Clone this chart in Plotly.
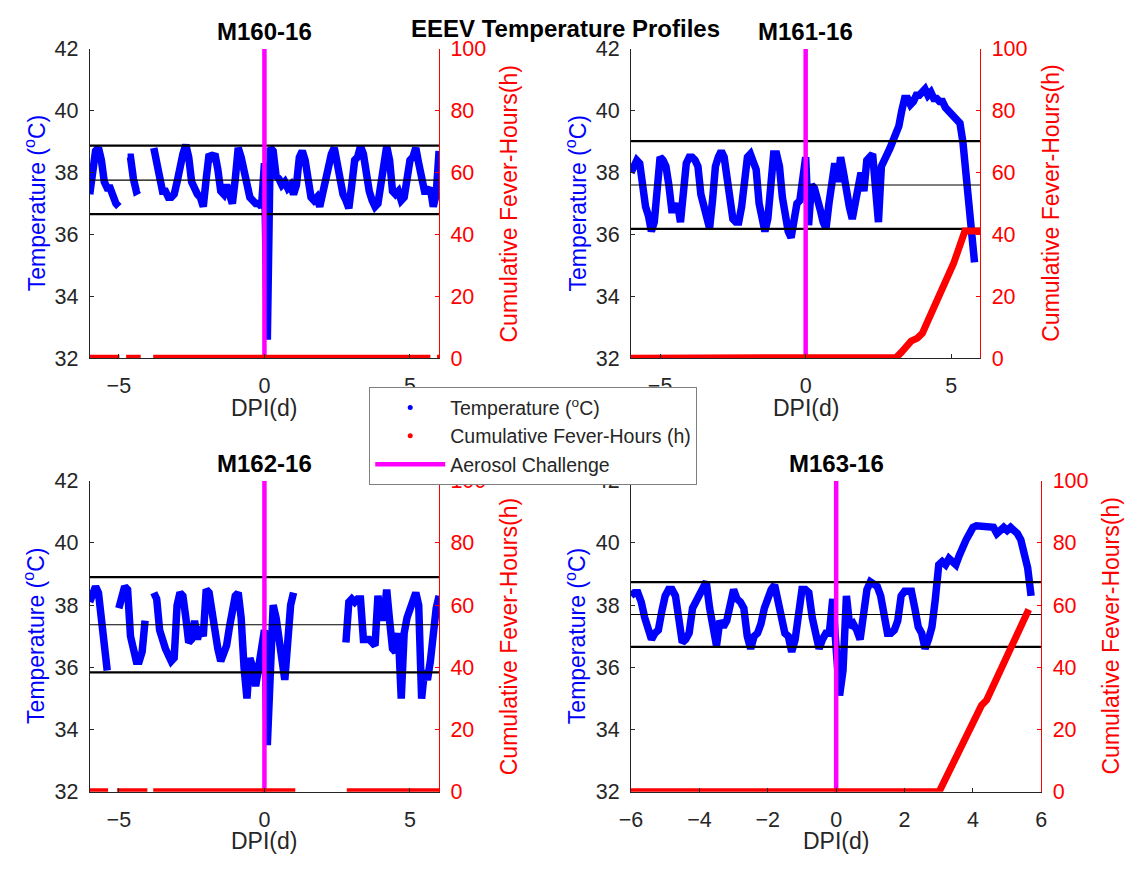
import plotly.graph_objects as go

# Days post infection, sampled every 0.1 d from -6 to 6
DAY = [round(-6 + 0.1 * i, 1) for i in range(121)]

# Body temperature (°C) per animal, one row per day
m160_temp = [
    37.3, 38.3, 38.7, 38.8, 38.4, 37.7, 37.5, 37.5, 37.2, 37.0,
    36.9, None, None, 38.5, 38.5, 37.8, 37.4, 37.45, None, None,
    None, None, 38.8, 38.4, 37.9, 37.4, 37.4, 37.2, 37.2, 37.3,
    37.7, 38.3, 38.6, 38.9, 38.5, 37.7, 37.4, 37.3, 37.2, 36.9,
    37.8, 38.6, 38.5, 38.6, 38.1, 37.4, 37.3, 37.6, 37.3, 37.0,
    37.8, 38.8, 38.5, 38.0, 37.4, 37.2, 37.1, 37.0, 37.0, 36.9,
    38.3, 32.6, 38.8, 38.7, 37.9, 37.8, 37.6, 37.7, 37.5, 37.6,
    37.3, 37.6, 38.5, 38.7, 38.4, 37.6, 37.2, 37.1, 37.2, 36.9,
    37.3, 37.8, 38.3, 38.6, 38.8, 38.3, 37.6, 37.3, 37.1, 36.85,
    37.6, 38.4, 38.5, 38.85, 38.6, 37.8, 37.4, 37.1, 36.9, 37.0,
    37.7, 38.4, 38.85, 38.4, 37.4, 37.3, 37.4, 37.1, 37.2, 37.8,
    38.4, 38.5, 38.8, 38.3, 37.7, 37.4, 37.4, 37.5, 36.9, 37.3,
    38.7,
]
m161_temp = [
    38.0, 38.3, 38.4, 38.3, 37.3, 36.9, 36.6, 36.1, 36.4, 37.8,
    38.5, 38.4, 38.2, 37.6, 36.8, 36.8, 37.0, 36.4, 37.7, 38.3,
    38.5, 38.5, 38.4, 38.2, 37.3, 36.9, 36.5, 36.2, 37.1, 38.2,
    38.5, 38.7, 38.5, 37.9, 37.3, 36.5, 36.4, 36.4, 36.9, 37.9,
    38.5, 38.6, 38.3, 38.1, 37.0, 36.4, 36.1, 36.5, 37.6, 38.6,
    38.6, 38.2, 37.2, 36.5, 36.1, 35.9, 36.7, 37.0, 37.1, 37.8,
    38.5, 36.3, 37.6, 37.5, 37.0, 36.8, 36.4, 36.2, 37.0, 37.8,
    38.3, 37.7, 38.5, 38.0, 37.3, 36.9, 36.5, 37.0, 37.6, 38.0,
    37.4, 38.4, 38.5, 38.6, 37.5, 36.4, 38.2, 38.5, 38.6, 38.8,
    39.0, 39.2, 39.5, 40.0, 40.4, 40.4, 40.2, 40.3, 40.5, 40.5,
    40.6, 40.7, 40.5, 40.6, 40.4, 40.4, 40.3, 40.3, 40.1, 40.0,
    39.9, 39.8, 39.7, 39.6, 39.0, 38.1, 37.2, 35.9, 35.1, None,
    None,
]
m162_temp = [
    38.1, 38.3, 38.6, 38.4, 37.5, 36.8, 35.9, None, None, None,
    37.9, 38.4, 38.6, 38.5, 37.0, 36.6, 36.2, 36.2, 36.5, 37.5,
    None, None, 38.4, 38.2, 37.2, 36.8, 36.6, 36.4, 36.2, 36.3,
    38.0, 38.4, 38.3, 37.6, 36.8, 36.9, 37.5, 36.9, 37.3, 37.0,
    38.5, 38.4, 37.7, 36.9, 36.6, 36.2, 36.4, 36.7, 37.3, 37.8,
    38.3, 38.4, 37.6, 36.0, 35.0, 36.3, 36.0, 35.4, 36.0, 36.8,
    37.2, 33.5, 35.9, 38.0, 37.6, 36.9, 36.6, 35.6, 36.8, 38.0,
    38.4, None, None, None, None, None, None, None, None, None,
    None, None, None, None, None, None, None, None, 36.8, 38.1,
    38.2, 38.1, 38.2, 38.2, 36.9, 36.9, 36.9, 36.8, 36.7, 38.3,
    37.6, 37.6, 38.5, 37.5, 36.6, 36.5, 37.1, 35.0, 37.1, 37.6,
    37.9, 38.1, 38.4, 38.0, 35.0, 35.9, 35.6, 36.2, 37.2, 37.9,
    38.3,
]
m163_temp = [
    38.3, 38.4, 38.4, 38.1, 37.6, 37.3, 36.9, 37.1, 37.2, 37.8,
    38.3, 38.5, 38.5, 38.3, 37.4, 36.8, 36.9, 37.1, 37.9, 38.1,
    38.4, 38.6, 38.75, 37.9, 37.3, 36.7, 37.5, 37.3, 37.5, 38.0,
    38.5, 38.2, 38.1, 37.9, 37.0, 36.6, 37.0, 37.1, 37.4, 37.9,
    38.3, 38.5, 38.65, 38.1, 37.5, 37.1, 37.0, 36.5, 36.9, 38.0,
    38.5, 38.5, 38.4, 37.6, 37.0, 36.6, 36.9, 37.1, 37.1, 38.2,
    36.6, 35.1, 35.9, 38.3, 37.3, 37.4, 37.2, 36.9, 37.7, 38.5,
    38.75, 38.7, 38.6, 38.3, 37.5, 37.1, 37.1, 37.2, 37.5, 38.3,
    38.45, 38.45, 38.45, 37.9, 37.3, 37.1, 36.6, 36.9, 37.3, 38.2,
    39.3, 39.4, 39.3, 39.5, 39.4, 39.3, 39.6, 39.9, 40.1, 40.3,
    40.5, 40.55, 40.55, 40.55, 40.5, 40.55, 40.5, 40.3, 40.4, 40.5,
    40.4, 40.5, 40.4, 40.3, 40.1, 39.7, 39.2, 38.3, None, None,
    None,
]

# Cumulative fever-hours (h)
m160_fever_day = [-6.0, -4.98, None, -4.75, -4.25, None, -3.82, 5.7, None, 5.93, 6.0]
m160_fever_hours = [0, 0, None, 0, 0, None, 0, 0, None, 0, 0]
m161_fever_day = [-6.0, 2.94, 3.11, 3.28, 3.45, 3.62, 3.84, 4.01, 4.18, 4.63, 5.08, 5.47, 6.0]
m161_fever_hours = [0, 0, 0.2, 1.8, 3.9, 5.5, 6.5, 8.1, 11.7, 21.2, 30.6, 41.1, 41.1]
m162_fever_day = [-6.0, -5.37, None, -5.06, -4.02, None, -3.82, 1.06, None, 2.83, 6.0]
m162_fever_hours = [0, 0, None, 0, 0, None, 0, 0, None, 0, 0]
m163_fever_day = [-6.0, 3.01, 4.25, 4.4, 5.63]
m163_fever_hours = [0, 0, 27.8, 29.5, 58.6]

# Baseline thresholds (°C): upper, mean, lower
m160_thresholds = [38.87, 37.76, 36.66]
m161_thresholds = [39.02, 37.60, 36.18]
m162_thresholds = [38.90, 37.37, 35.84]
m163_thresholds = [38.74, 37.70, 36.66]

animal_ids = ["M160-16", "M161-16", "M162-16", "M163-16"]
challenge_day = 0

W, H = 1131, 871
FONT = "Liberation Sans, Arial, Helvetica, sans-serif"
INK = "#262626"
BLUE = "#0000ff"
RED = "#ff0000"
MAGENTA = "#ff00ff"

# plot-area boxes in pixels: left, right, top, bottom
panels = [
    dict(temp=m160_temp, fd=m160_fever_day, fh=m160_fever_hours, thr=m160_thresholds,
         box=(79, 434, 39, 357), xt=[-5, 0, 5]),
    dict(temp=m161_temp, fd=m161_fever_day, fh=m161_fever_hours, thr=m161_thresholds,
         box=(629, 984, 39, 357), xt=[-5, 0, 5]),
    dict(temp=m162_temp, fd=m162_fever_day, fh=m162_fever_hours, thr=m162_thresholds,
         box=(79, 434, 483, 803), xt=[-5, 0, 5]),
    dict(temp=m163_temp, fd=m163_fever_day, fh=m163_fever_hours, thr=m163_thresholds,
         box=(629, 1046, 483, 803), xt=[-6, -4, -2, 0, 2, 4, 6]),
]
XR = [-6, 6]
TEMP_RANGE = [32, 42]
FEVER_RANGE = [0, 100]

fig = go.Figure()
layout = {}
annotations = []


def px(x):
    return x / W


def py(y):
    return 1 - y / H


for k, (p, name) in enumerate(zip(panels, animal_ids), start=1):
    l, r, t, b = p["box"]
    xname = "x" if k == 1 else f"x{k}"
    yl_i, yr_i = 2 * k - 1, 2 * k
    yl = "y" if yl_i == 1 else f"y{yl_i}"
    yr = f"y{yr_i}"
    xkey = "xaxis" if k == 1 else f"xaxis{k}"
    ylkey = "yaxis" if yl_i == 1 else f"yaxis{yl_i}"
    yrkey = f"yaxis{yr_i}"

    # temperature trace
    fig.add_trace(go.Scatter(
        x=DAY, y=p["temp"], mode="lines", connectgaps=False,
        line=dict(color=BLUE, width=7.5), xaxis=xname, yaxis=yl,
        showlegend=False, hoverinfo="skip"))
    # threshold lines
    for j, v in enumerate(p["thr"]):
        fig.add_trace(go.Scatter(
            x=XR, y=[v, v], mode="lines",
            line=dict(color="#000000", width=1.2 if j == 1 else 2.2),
            xaxis=xname, yaxis=yl, showlegend=False, hoverinfo="skip"))
    # challenge marker
    fig.add_trace(go.Scatter(
        x=[challenge_day, challenge_day], y=TEMP_RANGE, mode="lines",
        line=dict(color=MAGENTA, width=4.5), xaxis=xname, yaxis=yl,
        showlegend=False, hoverinfo="skip"))
    # cumulative fever-hours
    fig.add_trace(go.Scatter(
        x=p["fd"], y=p["fh"], mode="lines", connectgaps=False,
        line=dict(color=RED, width=7), xaxis=xname, yaxis=yr,
        showlegend=False, hoverinfo="skip"))

    tickfont = dict(family=FONT, size=21.5, color=INK)
    layout[xkey] = dict(
        domain=[px(l), px(r)], range=XR, anchor=yl, tickvals=p["xt"],
        ticks="inside", ticklen=4, tickcolor=INK, showline=True, linecolor=INK,
        linewidth=1, showgrid=False, zeroline=False, tickfont=tickfont,
        ticklabelstandoff=8, fixedrange=True)
    layout[ylkey] = dict(
        domain=[py(b), py(t)], range=TEMP_RANGE, anchor=xname, side="left",
        tickvals=[32, 34, 36, 38, 40, 42], ticks="inside", ticklen=4,
        tickcolor=INK, showline=True, linecolor=INK, linewidth=1,
        showgrid=False, zeroline=False, tickfont=tickfont,
        ticklabelstandoff=6, fixedrange=True)
    layout[yrkey] = dict(
        overlaying=yl, anchor=xname, side="right", range=FEVER_RANGE,
        tickvals=[0, 20, 40, 60, 80, 100], ticks="inside", ticklen=4,
        tickcolor=RED, showline=True, linecolor=RED, linewidth=1,
        showgrid=False, zeroline=False,
        tickfont=dict(family=FONT, size=21.5, color=RED),
        ticklabelstandoff=6, fixedrange=True)

    cx = (l + r) / 2
    cy = (t + b) / 2
    annotations += [
        dict(text=f"<b>{name}</b>", x=px(cx), y=py(t - 18), xref="paper", yref="paper",
             xanchor="center", yanchor="middle", showarrow=False,
             font=dict(family=FONT, size=24, color="#000000")),
        dict(text="DPI(d)", x=px(cx), y=py(b + 51), xref="paper", yref="paper",
             xanchor="center", yanchor="middle", showarrow=False,
             font=dict(family=FONT, size=23, color=INK)),
        dict(text="Temperature (<sup>o</sup>C)", x=px(l - 56), y=py(cy), xref="paper",
             yref="paper", xanchor="center", yanchor="middle", textangle=-90,
             showarrow=False, font=dict(family=FONT, size=23, color=BLUE)),
        dict(text="Cumulative Fever-Hours(h)", x=px(r + 71), y=py(cy), xref="paper",
             yref="paper", xanchor="center", yanchor="middle", textangle=-90,
             showarrow=False, font=dict(family=FONT, size=23, color=RED)),
    ]

annotations.append(dict(
    text="<b>EEEV Temperature Profiles</b>", x=px(562), y=py(18), xref="paper",
    yref="paper", xanchor="center", yanchor="middle", showarrow=False,
    font=dict(family=FONT, size=24, color="#000000")))

# legend entries
fig.add_trace(go.Scatter(x=[None], y=[None], mode="markers", name="Temperature (<sup>o</sup>C)",
                         marker=dict(color=BLUE, size=5)))
fig.add_trace(go.Scatter(x=[None], y=[None], mode="markers", name="Cumulative Fever-Hours (h)",
                         marker=dict(color=RED, size=5)))
fig.add_trace(go.Scatter(x=[None], y=[None], mode="lines", name="Aerosol Challenge",
                         line=dict(color=MAGENTA, width=4.5)))

fig.update_layout(
    width=W, height=H, margin=dict(l=0, r=0, t=0, b=0, pad=0),
    paper_bgcolor="white", plot_bgcolor="white",
    font=dict(family=FONT, color=INK),
    showlegend=True,
    legend=dict(x=px(363), y=py(387), xanchor="left", yanchor="top",
                bgcolor="white", bordercolor="#7f7f7f", borderwidth=1,
                font=dict(family=FONT, size=19.5, color=INK), itemwidth=70,
                tracegroupgap=0),
    annotations=annotations,
    **layout,
)

fig.write_html("out.html")
